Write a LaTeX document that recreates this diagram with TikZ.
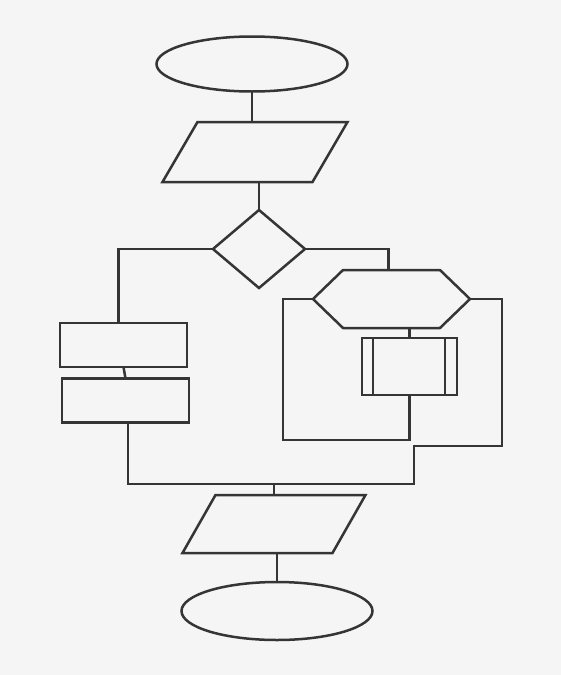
\documentclass[tikz,border=0pt]{standalone}
\usetikzlibrary{shapes.geometric,shapes.symbols}
\definecolor{ink}{HTML}{353535}
\definecolor{paper}{HTML}{F5F5F5}
\begin{document}
\begin{tikzpicture}[x=1pt,y=-1pt,
  every node/.style={draw=ink,line width=2.5pt,inner sep=0pt,outer sep=0pt},
  term/.style={ellipse,minimum width=191pt,minimum height=55pt},
  iobase/.style={draw=none,rectangle,minimum width=150pt,minimum height=60pt},
  decision/.style={diamond,minimum width=92pt,minimum height=78pt,aspect=1.18},
  proc/.style={rectangle,minimum width=127pt,minimum height=44pt},
  prep/.style={signal,signal to=east and west,signal pointer angle=88,minimum width=157pt,minimum height=58pt},
  link/.style={draw=ink,line width=2.5pt,line join=miter}]
\fill[paper] (0,0) rectangle (561,675);
\useasboundingbox (0,0) rectangle (561,675);
\node[term] (e1) at (252,64) {};
\node[iobase] (p1) at (255,152) {};
\draw[link] ([xshift=17.5pt]p1.north west) -- ([xshift=17.5pt]p1.north east)
  -- ([xshift=-17.5pt]p1.south east) -- ([xshift=-17.5pt]p1.south west) -- cycle;
\node[decision] (d) at (259,249) {};
\node[proc] (r1) at (123.5,345) {};
\node[proc] (r2) at (125.5,400.5) {};
\node[prep] (hex) at (391.5,299) {};
\node[rectangle,minimum width=95pt,minimum height=57pt] (box) at (409.5,366.5) {};
\node[iobase,minimum width=150pt,minimum height=58pt] (p2) at (274,524) {};
\draw[link] ([xshift=16.5pt]p2.north west) -- ([xshift=16.5pt]p2.north east)
  -- ([xshift=-16.5pt]p2.south east) -- ([xshift=-16.5pt]p2.south west) -- cycle;
\node[term,minimum height=58pt] (e2) at (277,611) {};
\draw[link] ([xshift=11pt]box.north west) -- ([xshift=11pt]box.south west);
\draw[link] ([xshift=-12pt]box.north east) -- ([xshift=-12pt]box.south east);
\coordinate (lb) at (283,440);
\coordinate (rb) at (502,446);
\coordinate (mr) at (414,484);
\coordinate (ml) at (128,484);
\draw[link] (e1.south) -- (e1.south |- p1.north);
\draw[link] (d.north |- p1.south) -- (d.north);
\draw[link] (d.west) -| ([xshift=-5pt]r1.north);
\draw[link] (r1.south) -- (r2.north);
\draw[link] (d.east) -| ([xshift=-3pt]hex.north);
\draw[link] (box.north |- hex.south) -- (box.north);
\draw[link] (box.south) |- (lb) |- (hex.west);
\draw[link] (hex.east) -| (rb) -| (mr) -- (ml) -- (ml |- r2.south);
\draw[link] (p2.north |- ml) -- (p2.north);
\draw[link] (e2.north |- p2.south) -- (e2.north);
\end{tikzpicture}
\end{document}
